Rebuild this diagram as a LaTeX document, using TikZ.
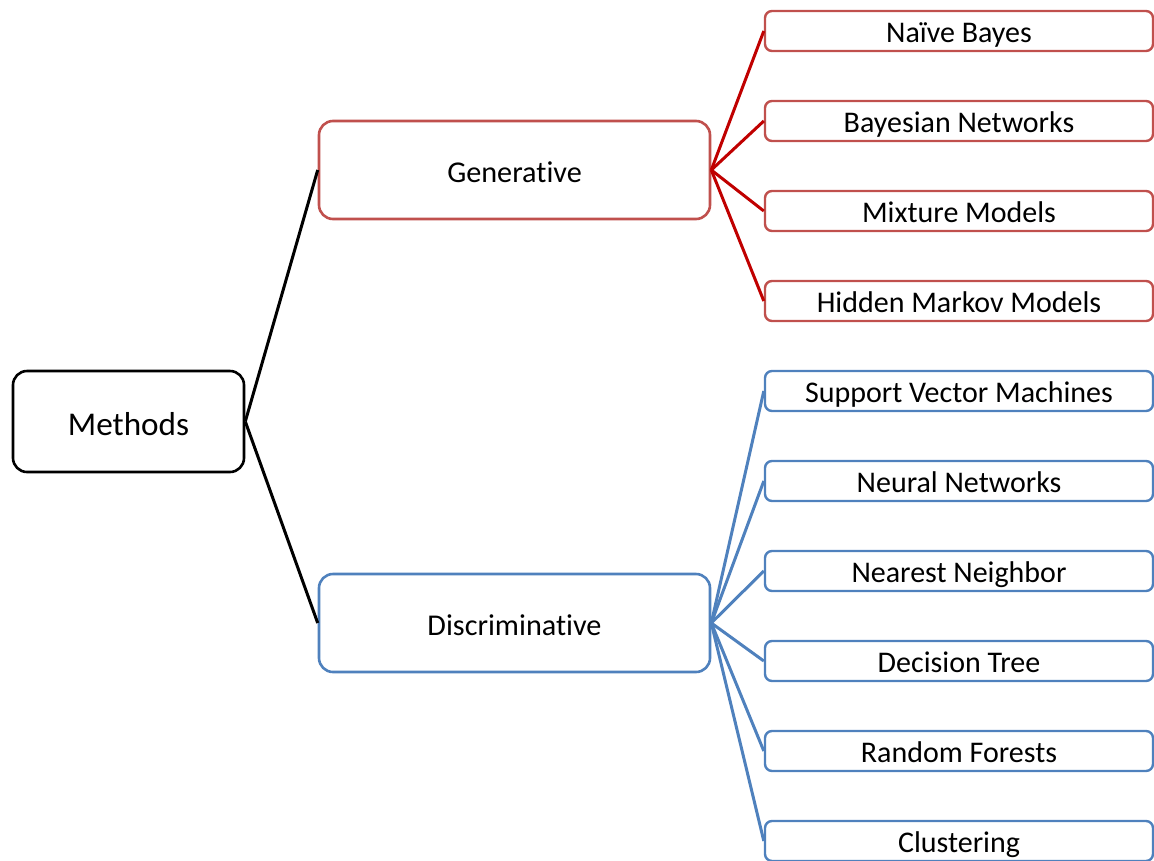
\documentclass[tikz,border=0pt]{standalone}
\usepackage{fontspec}
\setmainfont[RawFeature={-liga}]{Carlito}
\definecolor{genred}{HTML}{C0504D}
\definecolor{linered}{HTML}{C00000}
\definecolor{discblue}{HTML}{4F81BD}
\begin{document}
\begin{tikzpicture}[x=1pt,y=-1pt,
  box/.style={draw, fill=white, rounded corners=14pt, line width=2.6pt, inner sep=0pt, text height=25.5pt, text depth=1.5pt, font=\fontsize{30.2}{33}\selectfont},
  leaf/.style={draw, fill=white, rounded corners=7pt, line width=2.4pt, inner sep=0pt, minimum width=388pt, minimum height=40pt, text height=25pt, text depth=2pt, font=\fontsize{30}{33}\selectfont},
  genbox/.style={box, draw=genred, minimum width=391pt, minimum height=98pt},
  discbox/.style={box, draw=discblue, minimum width=391pt, minimum height=98pt},
  genleaf/.style={leaf, draw=genred},
  discleaf/.style={leaf, draw=discblue},
  gline/.style={draw=linered, line width=3pt},
  dline/.style={draw=discblue, line width=3pt},
  mline/.style={draw=black, line width=3pt}]
\useasboundingbox (0,0) rectangle (1154,860);
\clip (0,0) rectangle (1154,860);
\node[box, draw=black, minimum width=231pt, minimum height=101pt, text height=29pt, text depth=2pt, font=\fontsize{33.2}{36}\selectfont] (m) at (128.5,421.5) {Methods};
\node[genbox] (g) at (514.5,170) {Generative};
\node[discbox] (d) at (514.5,623) {Discriminative};
\node[genleaf] (g1) at (959,31) {Naïve Bayes};
\node[genleaf] (g2) at (959,121) {Bayesian Networks};
\node[genleaf] (g3) at (959,211) {Mixture Models};
\node[genleaf] (g4) at (959,301) {Hidden Markov Models};
\node[discleaf] (d1) at (959,391) {Support Vector Machines};
\node[discleaf] (d2) at (959,481) {Neural Networks};
\node[discleaf] (d3) at (959,571) {Nearest Neighbor};
\node[discleaf] (d4) at (959,661) {Decision Tree};
\node[discleaf] (d5) at (959,751) {Random Forests};
\node[discleaf] (d6) at (959,841) {Clustering};
\draw[mline] (m.east) -- (g.west);
\draw[mline] (m.east) -- (d.west);
\foreach \i in {1,...,4} \draw[gline] (g.east) -- (g\i.west);
\foreach \i in {1,...,6} \draw[dline] (d.east) -- (d\i.west);
\end{tikzpicture}
\end{document}
